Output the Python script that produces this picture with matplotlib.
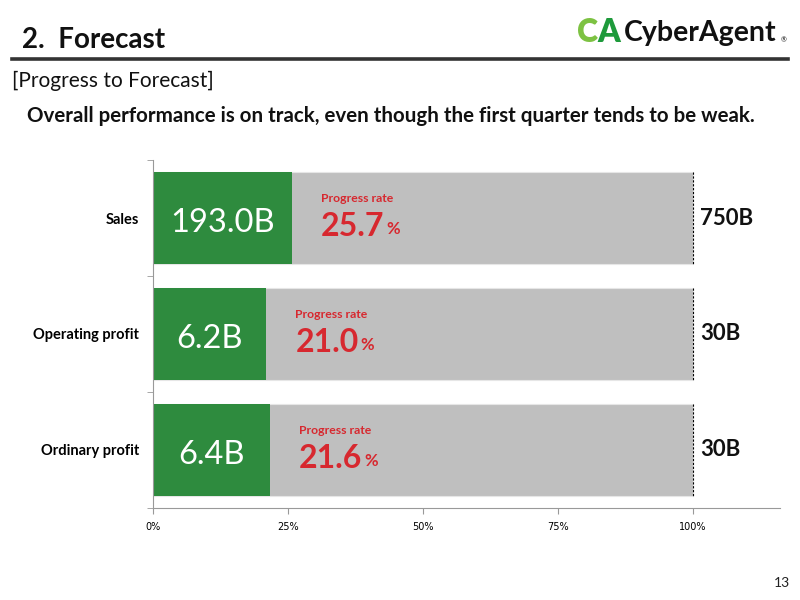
import matplotlib.pyplot as plt
import matplotlib.transforms as mtransforms
from matplotlib.lines import Line2D

plt.rcParams['font.family'] = ['Lato', 'DejaVu Sans']

# data
categories = ['Sales', 'Operating profit', 'Ordinary profit']
actual_labels = ['193.0B', '6.2B', '6.4B']
progress = [25.7, 21.0, 21.6]
forecast_labels = ['750B', '30B', '30B']
xticks = [0, 25, 50, 75, 100]

green = '#2E8B3E'
grey = '#BFBFBF'
red = '#D7282F'

fig = plt.figure(figsize=(8, 6), dpi=100)

# header
fig.text(22 / 800, 1 - 40 / 600, '2.  Forecast', fontsize=20, fontweight='bold',
         ha='left', va='center', color='#111111')
fig.add_artist(Line2D([12 / 800, 788 / 800], [1 - 58.5 / 600] * 2, color='#333333',
                      linewidth=2.6, transform=fig.transFigure))
fig.text(12 / 800, 1 - 81 / 600, '[Progress to Forecast]', fontsize=15,
         ha='left', va='center', color='#111111')
fig.text(27 / 800, 1 - 116 / 600,
         'Overall performance is on track, even though the first quarter tends to be weak.',
         fontsize=14.8, fontweight='bold', ha='left', va='center', color='#111111')
fig.text(782 / 800, 1 - 583 / 600, '13', fontsize=10, ha='center', va='center', color='#222222')

# logo
fig.text(577 / 800, 1 - 33 / 600, 'C', fontsize=23, fontweight='heavy', color='#7DC242',
         ha='left', va='center')
fig.text(597 / 800, 1 - 33 / 600, 'A', fontsize=23, fontweight='heavy', color='#1E9A3B',
         ha='left', va='center')
fig.text(624 / 800, 1 - 33 / 600, 'CyberAgent', fontsize=20.5, fontweight='bold',
         color='#111111', ha='left', va='center')
fig.text(784 / 800, 1 - 40 / 600, '®', fontsize=5, color='#111111', ha='center', va='center')

# chart
ax = fig.add_axes([153 / 800, 1 - 508 / 600, 627 / 800, 348 / 600])
y = list(range(len(categories)))
ax.set_xlim(0, 116.1)
ax.set_ylim(len(y) - 0.5, -0.5)

ax.barh(y, [100] * len(y), height=0.8, color=grey, edgecolor='#E6E6E6', linewidth=0.8)
ax.barh(y, progress, height=0.8, color=green, edgecolor='none')

for i in y:
    ax.plot([100, 100], [i - 0.4, i + 0.4], color='black', linestyle=(0, (2, 1.5)),
            linewidth=0.8)
    # actual value in the green bar
    ax.text(progress[i] / 2, i + 0.04, actual_labels[i], color='white', fontsize=23.5,
            ha='center', va='center')
    # progress rate
    base = mtransforms.offset_copy(ax.transData, fig=fig, x=29, y=0, units='dots')
    ax.text(progress[i], i - 0.17, 'Progress rate', color=red, fontsize=8.8,
            fontweight='bold', ha='left', va='center', transform=base)
    t = ax.text(progress[i], i + 0.07, f'{progress[i]:.1f}', color=red, fontsize=23,
                fontweight='bold', ha='left', va='center', transform=base)
    fig.canvas.draw()
    bb = t.get_window_extent()
    fig.text(bb.x1 + 2, bb.y0 + 4, '%', transform=None,
             color=red, fontsize=12, fontweight='bold', ha='left', va='bottom')
    # forecast
    ax.annotate(forecast_labels[i], xy=(100, i), xytext=(5, 0), textcoords='offset points',
                fontsize=16, fontweight='bold', ha='left', va='center', color='#111111')

ax.set_xticks(xticks)
ax.set_xticklabels([f'{v}%' for v in xticks], fontsize=7, family='DejaVu Sans')
ax.set_yticks(y)
ax.set_yticklabels(categories, fontsize=10.5, fontweight='bold')
ax.set_yticks([-0.5, 0.5, 1.5, 2.5], minor=True)
ax.tick_params(axis='y', which='major', length=0, pad=10)
ax.tick_params(axis='y', which='minor', length=4, color='#999999')
ax.tick_params(axis='x', length=4, color='#999999', pad=6)
for s in ['top', 'right']:
    ax.spines[s].set_visible(False)
ax.spines['left'].set_color('#999999')
ax.spines['bottom'].set_color('#999999')

fig.savefig('out.png', dpi=100)
